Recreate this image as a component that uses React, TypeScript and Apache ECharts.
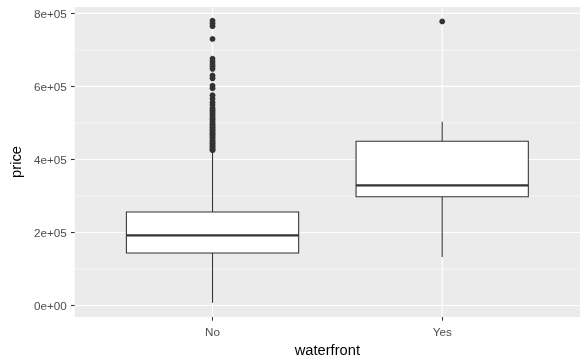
import React, { useEffect, useRef } from 'react';
import * as echarts from 'echarts';

const categories = ['No', 'Yes'];
// [lower whisker, Q1, median, Q3, upper whisker]
const boxNo = [7500, 144000, 192000, 256000, 422000];
const boxYes = [133000, 298000, 329000, 450000, 503000];
const outliersNo = [
  780000, 772000, 765000, 730000, 676000, 668000, 661000, 655000, 648000,
  630000, 622000, 602000, 595000, 576000, 566000, 556000, 549000, 540000,
  535000, 530000, 525000, 520000, 515000, 510000, 505000, 500000, 496000,
  492000, 488000, 484000, 480000, 476000, 472000, 468000, 464000, 460000,
  456000, 452000, 448000, 444000, 440000, 436000, 432000, 428000, 425000,
];
const outliersYes = [778000];
const majorY = [0, 200000, 400000, 600000, 800000];
const minorY = [100000, 300000, 500000, 700000];
const yTickLabels = ['0e+00', '2e+05', '4e+05', '6e+05', '8e+05'];

const FONT = '"Liberation Sans", Arial, sans-serif';
const DARK = '#333333';

export default function App() {
  const ref = useRef<HTMLDivElement>(null);
  useEffect(() => {
    if (!ref.current) return;
    const chart = echarts.init(ref.current, null, { renderer: 'svg' });
    const boxes = [boxNo, boxYes].map((s, i) => [i + 1, ...s]);
    const outlierData = [
      ...outliersNo.map((v) => [1, v]),
      ...outliersYes.map((v) => [2, v]),
    ];
    const hLines = [
      ...minorY.map((v) => [v, 0]),
      ...majorY.map((v) => [v, 1]),
    ];
    const vLines = categories.map((_, i) => [i + 1]);

    chart.setOption({
      animation: false,
      textStyle: { fontFamily: FONT },
      grid: {
        left: 71,
        right: 8,
        top: 7,
        bottom: 44.5,
        show: true,
        backgroundColor: '#EBEBEB',
        borderWidth: 0,
      },
      xAxis: {
        type: 'value',
        min: 0.4,
        max: 2.6,
        name: 'waterfront',
        nameLocation: 'middle',
        nameGap: 25,
        nameTextStyle: { color: '#000', fontSize: 14.7, fontFamily: FONT },
        axisLine: { show: false, onZero: false },
        splitLine: { show: false },
        axisTick: {
          show: true,
          length: 3.7,
          customValues: [1, 2],
          lineStyle: { color: DARK, width: 1.07 },
        },
        axisLabel: {
          customValues: [1, 2],
          margin: 8,
          color: '#4D4D4D',
          fontSize: 11.7,
          fontFamily: FONT,
          formatter: (v: number) => categories[Math.round(v) - 1] ?? '',
        },
      },
      yAxis: {
        type: 'value',
        min: -31400,
        max: 817400,
        name: 'price',
        nameLocation: 'middle',
        nameGap: 48,
        nameRotate: 90,
        nameTextStyle: { color: '#000', fontSize: 14.7, fontFamily: FONT },
        axisLine: { show: false, onZero: false },
        splitLine: { show: false },
        axisTick: {
          show: true,
          length: 3.7,
          customValues: majorY,
          lineStyle: { color: DARK, width: 1.07 },
        },
        axisLabel: {
          customValues: majorY,
          margin: 8,
          color: '#4D4D4D',
          fontSize: 11.7,
          fontFamily: FONT,
          formatter: (v: number) => {
            const idx = majorY.indexOf(v);
            return idx >= 0 ? yTickLabels[idx] : '';
          },
        },
      },
      series: [
        {
          type: 'custom',
          silent: true,
          z: 0,
          data: hLines,
          encode: { y: 0 },
          renderItem: (params: any, api: any) => {
            const cs = params.coordSys;
            const p = api.coord([1, api.value(0)]);
            const major = api.value(1) === 1;
            return {
              type: 'line',
              shape: { x1: cs.x, y1: p[1], x2: cs.x + cs.width, y2: p[1] },
              style: { stroke: '#FFFFFF', lineWidth: major ? 1.07 : 0.53 },
            };
          },
        },
        {
          type: 'custom',
          silent: true,
          z: 0,
          data: vLines,
          encode: { x: 0 },
          renderItem: (params: any, api: any) => {
            const cs = params.coordSys;
            const p = api.coord([api.value(0), 0]);
            return {
              type: 'line',
              shape: { x1: p[0], y1: cs.y, x2: p[0], y2: cs.y + cs.height },
              style: { stroke: '#FFFFFF', lineWidth: 1.07 },
            };
          },
        },
        {
          type: 'custom',
          silent: true,
          z: 2,
          data: boxes,
          encode: { x: 0, y: [1, 2, 3, 4, 5] },
          renderItem: (params: any, api: any) => {
            const x = api.value(0);
            const half = api.size([0.75, 0])[0] / 2;
            const pMin = api.coord([x, api.value(1)]);
            const pQ1 = api.coord([x, api.value(2)]);
            const pMed = api.coord([x, api.value(3)]);
            const pQ3 = api.coord([x, api.value(4)]);
            const pMax = api.coord([x, api.value(5)]);
            const cx = pMed[0];
            return {
              type: 'group',
              children: [
                {
                  type: 'line',
                  shape: { x1: cx, y1: pMax[1], x2: cx, y2: pQ3[1] },
                  style: { stroke: DARK, lineWidth: 1.07 },
                },
                {
                  type: 'line',
                  shape: { x1: cx, y1: pQ1[1], x2: cx, y2: pMin[1] },
                  style: { stroke: DARK, lineWidth: 1.07 },
                },
                {
                  type: 'rect',
                  shape: {
                    x: cx - half,
                    y: pQ3[1],
                    width: half * 2,
                    height: pQ1[1] - pQ3[1],
                  },
                  style: { fill: '#FFFFFF', stroke: DARK, lineWidth: 1.07 },
                },
                {
                  type: 'line',
                  shape: { x1: cx - half, y1: pMed[1], x2: cx + half, y2: pMed[1] },
                  style: { stroke: DARK, lineWidth: 2.13 },
                },
              ],
            };
          },
        },
        {
          type: 'scatter',
          silent: true,
          z: 3,
          data: outlierData,
          symbol: 'circle',
          symbolSize: 5.8,
          itemStyle: { color: DARK, opacity: 1 },
        },
      ],
    });
    return () => chart.dispose();
  }, []);
  return (
    <div
      ref={ref}
      style={{ position: 'fixed', left: 0, top: 0, width: 588, height: 362 }}
    />
  );
}
